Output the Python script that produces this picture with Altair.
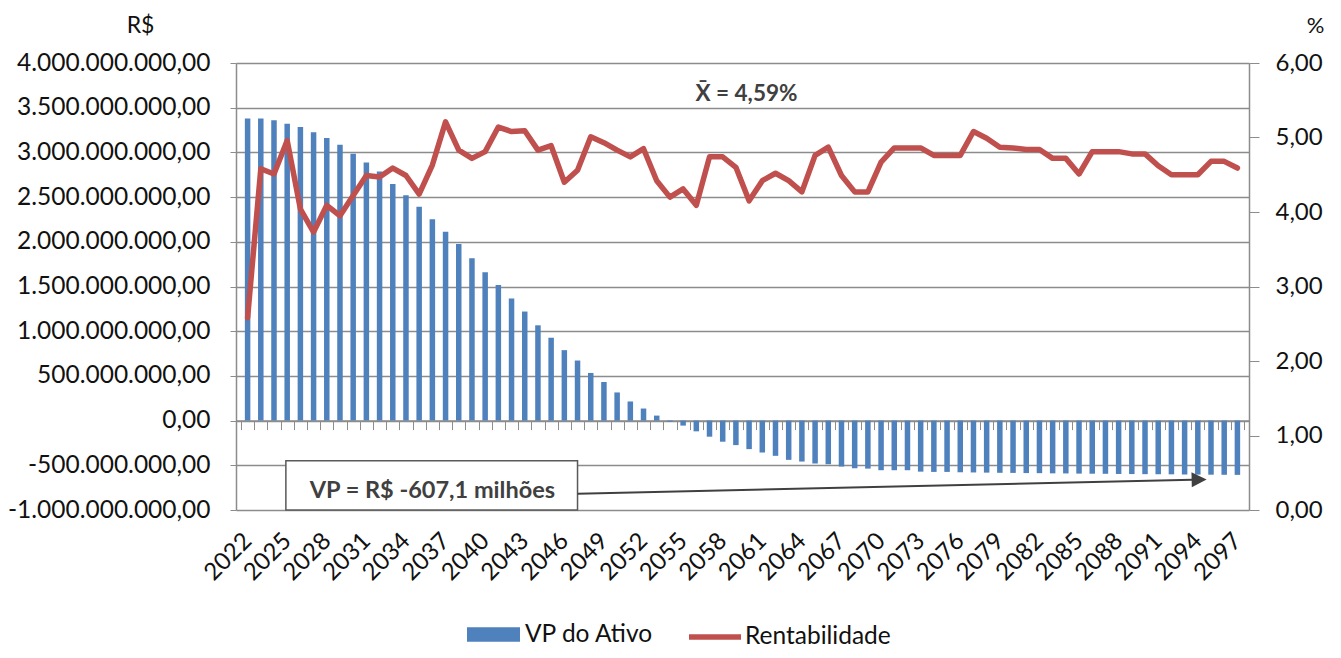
import altair as alt
import pandas as pd

# ---------------- data ----------------
years = list(range(2022, 2098))

vp_milhoes = [
    3378, 3378, 3359, 3321, 3284, 3224, 3160, 3085, 2984, 2886,
    2785, 2646, 2522, 2391, 2252, 2113, 1974, 1817, 1659, 1516,
    1366, 1220, 1066, 927, 788, 672, 533, 432, 315, 214,
    135, 56, -12, -56, -120, -180, -236, -274, -319, -357,
    -394, -439, -458, -480, -488, -514, -533, -537, -555, -555,
    -555, -571, -574, -574, -578, -580, -582, -584, -585, -587,
    -588, -590, -591, -593, -594, -595, -597, -598, -599, -600,
    -601, -603, -604, -605, -606, -607.1,
]

rentabilidade = [
    2.58, 4.58, 4.51, 4.96, 4.04, 3.73, 4.09, 3.95, 4.22, 4.49,
    4.47, 4.59, 4.49, 4.24, 4.63, 5.21, 4.83, 4.72, 4.81, 5.14,
    5.08, 5.09, 4.83, 4.89, 4.40, 4.56, 5.01, 4.93, 4.83, 4.74,
    4.85, 4.42, 4.20, 4.31, 4.09, 4.74, 4.74, 4.60, 4.15, 4.42,
    4.52, 4.42, 4.27, 4.76, 4.87, 4.49, 4.27, 4.27, 4.67, 4.86,
    4.86, 4.86, 4.76, 4.76, 4.76, 5.08, 4.99, 4.87, 4.86, 4.84,
    4.84, 4.72, 4.72, 4.51, 4.81, 4.81, 4.81, 4.78, 4.78, 4.62,
    4.50, 4.50, 4.50, 4.68, 4.68, 4.59,
]

left_ticks = [-1000000000, -500000000, 0, 500000000, 1000000000, 1500000000,
              2000000000, 2500000000, 3000000000, 3500000000, 4000000000]
left_tick_labels = ["-1.000.000.000,00", "-500.000.000,00", "0,00", "500.000.000,00",
                    "1.000.000.000,00", "1.500.000.000,00", "2.000.000.000,00",
                    "2.500.000.000,00", "3.000.000.000,00", "3.500.000.000,00",
                    "4.000.000.000,00"]
right_ticks = [0, 1, 2, 3, 4, 5, 6]
right_tick_labels = ["0,00", "1,00", "2,00", "3,00", "4,00", "5,00", "6,00"]
label_years = [2022, 2025, 2028, 2031, 2034, 2037, 2040, 2043, 2046, 2049, 2052,
               2055, 2058, 2061, 2064, 2067, 2070, 2073, 2076, 2079, 2082, 2085,
               2088, 2091, 2094, 2097]
band_edges = [y - 0.5 for y in years] + [years[-1] + 0.5]

serie_barra = "VP do Ativo"
serie_linha = "Rentabilidade"
texto_media = "X\u0304 = 4,59%"
texto_vp = "VP = R$ -607,1 milhões"

assert len(years) == len(vp_milhoes) == len(rentabilidade)


def label_expr(values, labels):
    expr = "''"
    for v, l in zip(values, labels):
        expr = f"datum.value == {v} ? '{l}' : ({expr})"
    return expr


# ---------------- styles ----------------
BLUE = "#4F81BD"
RED = "#C0504D"
GRID = "#8C8C8C"
TXT = "#111111"
ANN = "#404040"
FONT = "Lato"

df = pd.DataFrame({
    "ano": years,
    "vp": [v * 1e6 for v in vp_milhoes],
    "rent": rentabilidade,
    "s_bar": serie_barra,
    "s_line": serie_linha,
})

x_scale = alt.Scale(domain=[2021.5, 2097.5], nice=False, zero=False)
y_scale = alt.Scale(domain=[-1e9, 4e9], nice=False, zero=False)
y2_scale = alt.Scale(domain=[0, 6], nice=False, zero=False)

bars = alt.Chart(df).mark_bar(width=5.5).encode(
    x=alt.X("ano:Q", scale=x_scale,
            axis=alt.Axis(orient="bottom", values=band_edges, labels=False, ticks=True,
                          tickSize=9, tickColor=GRID, tickWidth=1, domain=True,
                          domainColor=GRID, domainWidth=1.5, grid=False, title=None,
                          offset=-89.4)),
    y=alt.Y("vp:Q", scale=y_scale,
            axis=alt.Axis(orient="left", values=left_ticks,
                          labelExpr=label_expr(left_ticks, left_tick_labels), grid=True,
                          gridColor=GRID, gridWidth=1.5, tickSize=6, tickColor=GRID,
                          domainColor=GRID, domainWidth=1.5, labelFontSize=24.5,
                          labelColor=TXT, labelFont=FONT, labelPadding=20,
                          labelLimit=400,
                          title="R$", titleAngle=0, titleX=-96, titleY=-38,
                          titleAlign="center", titleBaseline="middle",
                          titleFontSize=23, titleFontWeight="normal",
                          titleColor=TXT, titleFont=FONT)),
    fill=alt.Fill("s_bar:N", scale=alt.Scale(domain=[serie_barra], range=[BLUE]),
                  legend=alt.Legend(orient="none", legendX=231, legendY=545, title=None,
                                    labelFontSize=24.5, labelFont=FONT, labelColor=TXT,
                                    symbolType="M-1,-0.27L1,-0.27L1,0.27L-1,0.27Z",
                                    symbolSize=2809, symbolStrokeWidth=0,
                                    labelOffset=5, padding=0, labelLimit=400)),
)

ann_box = pd.DataFrame({"x": [2024.9], "x2": [2047.0], "y": [-1.0e9], "y2": [-4.5e8]})
box = alt.Chart(ann_box).mark_rect(fill="white", stroke="#595959", strokeWidth=1.5).encode(
    x=alt.X("x:Q", scale=x_scale, axis=None), x2="x2",
    y=alt.Y("y:Q", scale=y_scale, axis=None), y2="y2",
)

ann_text = pd.DataFrame({"x": [2036.0], "y": [-7.87e8], "t": [texto_vp]})
box_text = alt.Chart(ann_text).mark_text(fontSize=23.5, fontWeight="bold", color=ANN,
                                         font=FONT, align="center", baseline="middle").encode(
    x=alt.X("x:Q", scale=x_scale, axis=None),
    y=alt.Y("y:Q", scale=y_scale, axis=None),
    text="t:N",
)

ann_arrow = pd.DataFrame({"x": [2047.0], "x2": [2093.6], "y": [-8.17e8], "y2": [-6.61e8]})
arrow_line = alt.Chart(ann_arrow).mark_rule(color=ANN, strokeWidth=2).encode(
    x=alt.X("x:Q", scale=x_scale, axis=None), x2="x2",
    y=alt.Y("y:Q", scale=y_scale, axis=None), y2="y2",
)

ann_head = pd.DataFrame({"x": [2094.1], "y": [-6.60e8]})
arrow_head = alt.Chart(ann_head).mark_point(shape="M-1,-1L1,0L-1,1Z", filled=True, size=225,
                                            color=ANN, opacity=1, angle=358.7).encode(
    x=alt.X("x:Q", scale=x_scale, axis=None),
    y=alt.Y("y:Q", scale=y_scale, axis=None),
)

line = alt.Chart(df).mark_line(strokeWidth=5.5, strokeJoin="round", strokeCap="round").encode(
    x=alt.X("ano:Q", scale=x_scale,
            axis=alt.Axis(orient="bottom", values=label_years, labelAngle=-45,
                          labelAlign="right", labelBaseline="middle", ticks=False,
                          domain=False, grid=False, labelPadding=27, labelFontSize=24,
                          labelFont=FONT, labelColor=TXT, title=None, labelFlush=False,
                          labelOverlap=False, format="d")),
    y=alt.Y("rent:Q", scale=y2_scale,
            axis=alt.Axis(orient="right", values=right_ticks,
                          labelExpr=label_expr(right_ticks, right_tick_labels),
                          grid=False, tickSize=10, tickColor=GRID, domainColor=GRID,
                          domainWidth=1.5, labelFontSize=24, labelFont=FONT,
                          labelColor=TXT, labelPadding=16,
                          title="%", titleAngle=0, titleX=66, titleY=-38,
                          titleAlign="center", titleBaseline="middle",
                          titleFontSize=22, titleFontWeight="normal",
                          titleColor=TXT, titleFont=FONT)),
    stroke=alt.Stroke("s_line:N", scale=alt.Scale(domain=[serie_linha], range=[RED]),
                      legend=alt.Legend(orient="none", legendX=450, legendY=545, title=None,
                                        labelFontSize=24.5, labelFont=FONT, labelColor=TXT,
                                        symbolType="stroke", symbolSize=2704,
                                        symbolStrokeWidth=5.5, labelOffset=1, padding=0,
                                        labelLimit=400)),
)

mean_df = pd.DataFrame({"x": [2059.8], "y": [5.59], "t": [texto_media]})
mean_text = alt.Chart(mean_df).mark_text(fontSize=22.5, fontWeight="bold", color=ANN, font=FONT,
                                         align="center", baseline="middle").encode(
    x=alt.X("x:Q", scale=x_scale, axis=None),
    y=alt.Y("y:Q", scale=y2_scale, axis=None),
    text="t:N",
)

chart = alt.layer(
    bars, line, box, box_text, arrow_line, arrow_head, mean_text
).resolve_scale(
    y="independent", fill="independent", stroke="independent"
).resolve_axis(
    x="independent", y="independent"
).properties(
    width=1013, height=447,
    autosize=alt.AutoSizeParams(type="none"),
    padding={"left": 228, "top": 55, "right": 80, "bottom": 140},
).configure(font=FONT, background="white").configure_view(stroke=None)

chart.save("out.html", embed_options={"renderer": "svg", "actions": False})
